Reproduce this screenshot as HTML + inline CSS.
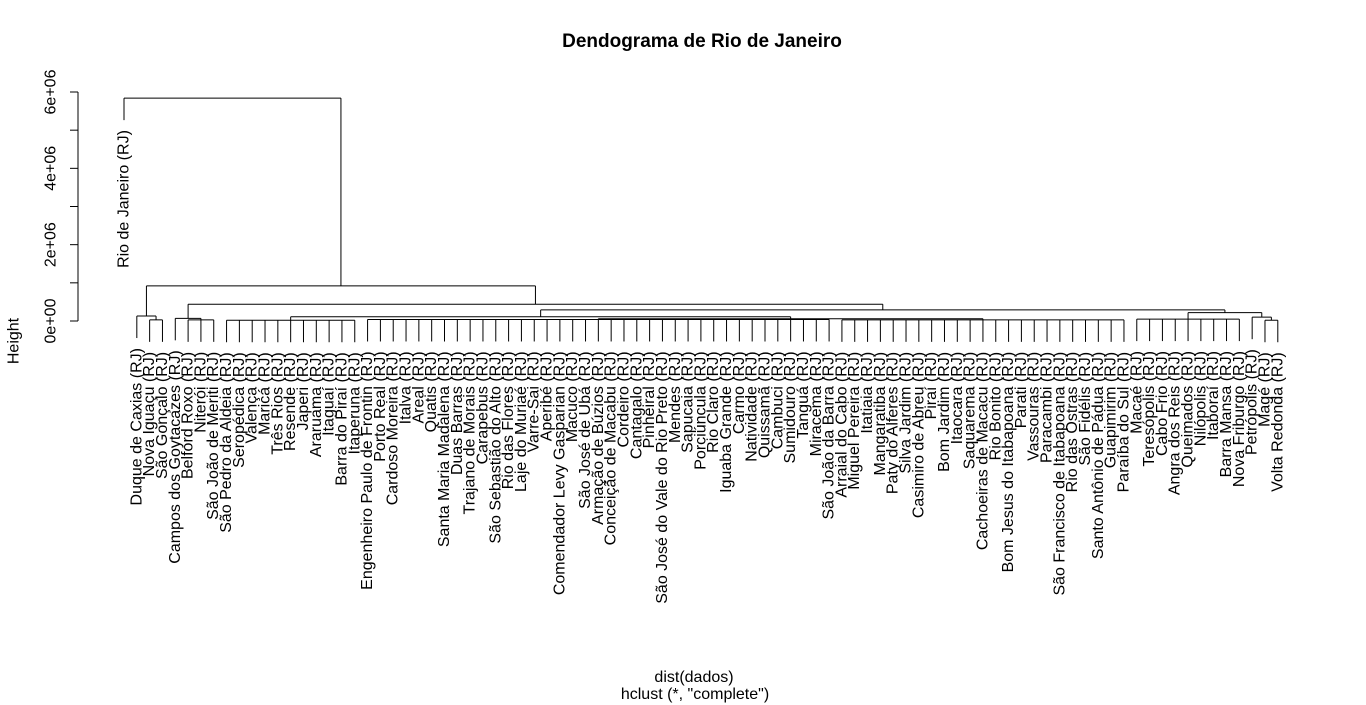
<!DOCTYPE html>
<html><head><meta charset="utf-8"><style>
html,body{margin:0;padding:0;background:#fff;}
svg{display:block;font-family:"Liberation Sans",Arial,sans-serif;}
</style></head><body>
<svg id="chart" width="1366" height="705" viewBox="0 0 1366 705" xmlns="http://www.w3.org/2000/svg">
<text x="702" y="47" text-anchor="middle" font-size="19" font-weight="bold">Dendograma de Rio de Janeiro</text>
<text x="694" y="682" text-anchor="middle" font-size="16">dist(dados)</text>
<text x="695" y="699" text-anchor="middle" font-size="16">hclust (*, "complete")</text>
<text transform="translate(14,341) rotate(-90)" text-anchor="middle" dominant-baseline="central" font-size="16">Height</text>
<g id="yaxis"></g>
<g id="tree"></g>
<g id="labels"></g>
</svg>
<script>
const leafNames = ["Rio de Janeiro","Duque de Caxias","Nova Iguaçu","São Gonçalo","Campos dos Goytacazes","Belford Roxo","Niterói","São João de Meriti","São Pedro da Aldeia","Seropédica","Valença","Maricá","Três Rios","Resende","Japeri","Araruama","Itaguaí","Barra do Piraí","Itaperuna","Engenheiro Paulo de Frontin","Porto Real","Cardoso Moreira","Italva","Areal","Quatis","Santa Maria Madalena","Duas Barras","Trajano de Morais","Carapebus","São Sebastião do Alto","Rio das Flores","Laje do Muriaé","Varre-Sai","Aperibé","Comendador Levy Gasparian","Macuco","São José de Ubá","Armação de Búzios","Conceição de Macabu","Cordeiro","Cantagalo","Pinheiral","São José do Vale do Rio Preto","Mendes","Sapucaia","Porciúncula","Rio Claro","Iguaba Grande","Carmo","Natividade","Quissamã","Cambuci","Sumidouro","Tanguá","Miracema","São João da Barra","Arraial do Cabo","Miguel Pereira","Itatiaia","Mangaratiba","Paty do Alferes","Silva Jardim","Casimiro de Abreu","Piraí","Bom Jardim","Itaocara","Saquarema","Cachoeiras de Macacu","Rio Bonito","Bom Jesus do Itabapoana","Parati","Vassouras","Paracambi","São Francisco de Itabapoana","Rio das Ostras","São Fidélis","Santo Antônio de Pádua","Guapimirim","Paraíba do Sul","Macaé","Teresópolis","Cabo Frio","Angra dos Reis","Queimados","Nilópolis","Itaboraí","Barra Mansa","Nova Friburgo","Petrópolis","Magé","Volta Redonda"];
// merge heights (millions): each node = [height, child, child, ...]; leaf = index
const nodeB = [0.13, 1, [0.03, 2, 3]];
const nodeD = [0.07, 4, [0.03, 5, 6, 7]];
const nodeH = [0.02, 8, 9, 10, 11, 12, 13, 14, 15, 16, 17, 18];
const nodeI1 = [0.04, 19,20,21,22,23,24,25,26,27,28,29,30,31,32,33,34,35,36,37,38,39,40,41,42,43,44,45,46,47,48,49,50,51,52,53,54,55];
const nodeI2 = [0.03, 56,57,58,59,60,61,62,63,64,65,66,67,68,69,70,71,72,73,74,75,76,77,78];
const nodeF = [0.11, nodeH, [0.06, nodeI1, nodeI2]];
const nodeJ = [0.05, 79,80,81,82,83,84,85,86,87];
const nodeK = [0.10, 88, [0.02, 89, 90]];
const nodeG = [0.22, nodeJ, nodeK];
const nodeE = [0.29, nodeF, nodeG];
const nodeC = [0.44, nodeD, nodeE];
const nodeA = [0.92, nodeB, nodeC];
const root = [5.84, 0, nodeA];
const yTicks = [0,1,2,3,4,5,6];
const yTickLabels = ["0e+00","","2e+06","","4e+06","","6e+06"];

const NS = "http://www.w3.org/2000/svg";
const x0 = 124, dx = 12.82, y0 = 321, pxPerM = 229/6, hang = 22;
const xs = i => x0 + i*dx;
const ys = h => y0 - h*pxPerM;
const treeG = document.getElementById('tree');
const labG = document.getElementById('labels');
function line(x1,y1,x2,y2,name){
  const l = document.createElementNS(NS,'line');
  l.setAttribute('x1',x1);l.setAttribute('y1',y1);l.setAttribute('x2',x2);l.setAttribute('y2',y2);
  l.setAttribute('stroke','#000');l.setAttribute('stroke-width','1');
  
  
  return l;
}
function draw(node){
  if (typeof node === 'number') return {x: xs(node), leaf: true, i: node};
  const h = node[0];
  const kids = node.slice(1).map(draw);
  const y = ys(h);
  kids.forEach(k => {
    let yb;
    if (k.leaf) {
      yb = y + hang;
      const t = document.createElementNS(NS,'text');
      t.setAttribute('transform', `translate(${k.x},${yb+10}) rotate(-90)`);
      t.setAttribute('text-anchor','end');
      t.setAttribute('dominant-baseline','central');
      t.setAttribute('font-size','16');
      t.textContent = leafNames[k.i] + " (RJ)";
      
      
      labG.appendChild(t);
    } else yb = k.y;
    treeG.appendChild(line(k.x, y, k.x, yb, 'branch-vertical'));
  });
  treeG.appendChild(line(kids[0].x, y, kids[kids.length-1].x, y, 'branch-horizontal'));
  return {x: (kids[0].x + kids[kids.length-1].x)/2, y: y, leaf: false};
}
draw(root);
const ya = document.getElementById('yaxis');
ya.appendChild(line(78, ys(yTicks[0]), 78, ys(yTicks[yTicks.length-1]), 'y-axis-line'));
yTicks.forEach((v,k) => {
  ya.appendChild(line(70, ys(v), 78, ys(v), 'y-tick'));
  if (yTickLabels[k]) {
    const t = document.createElementNS(NS,'text');
    t.setAttribute('transform', `translate(51,${ys(v)}) rotate(-90)`);
    t.setAttribute('text-anchor','middle');
    t.setAttribute('dominant-baseline','central');
    t.setAttribute('font-size','16');
    t.textContent = yTickLabels[k];
    
    
    ya.appendChild(t);
  }
});
</script>
</body></html>
